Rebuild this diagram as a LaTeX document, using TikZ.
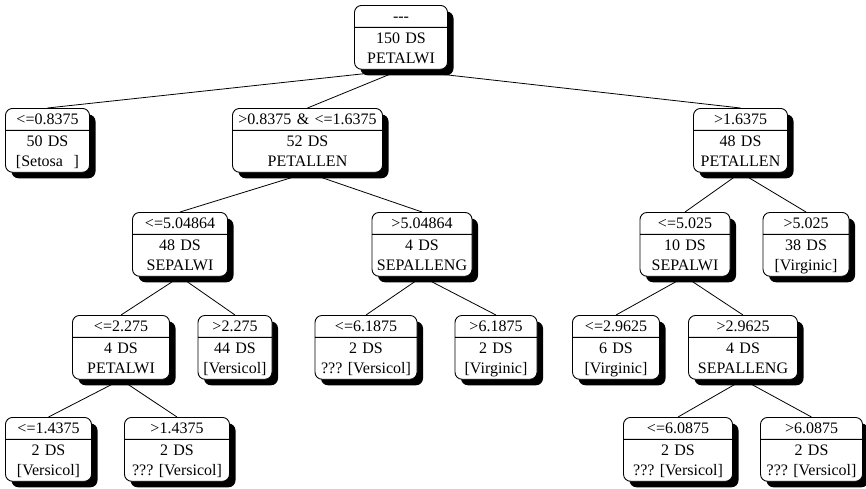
\documentclass[tikz,border=0pt]{standalone}
\usepackage{fontspec}
\setmainfont{Liberation Serif}
\usetikzlibrary{shapes.multipart,shadows}
\pgfdeclarelayer{edges}
\pgfsetlayers{edges,main}
% line strut for the box rows
\newcommand\rowstrut{\rule[-5pt]{0pt}{20pt}}
\begin{document}
\frenchspacing
\begin{tikzpicture}[x=1pt,y=-1pt,
  tnode/.style={rectangle split, rectangle split parts=2, draw, line width=0.9pt,
    rounded corners=7pt, fill=white, anchor=north, align=center,
    inner xsep=0pt, inner ysep=0.5pt,
    font=\fontsize{16}{20}\selectfont,
    drop shadow={shadow xshift=6pt, shadow yshift=-6pt, fill=black, opacity=1}},
  link/.style={line width=0.8pt}]
\useasboundingbox (0,0) rectangle (866,488);

% root
\node[tnode, text width=93pt] (r) at (401,5)
  {\rowstrut-{}-{}-\nodepart{two}\rowstrut150 DS\\\rowstrut PETALWI};

% level 1
\node[tnode, text width=84pt] (a) at (47.5,108)
  {\rowstrut<=0.8375\nodepart{two}\rowstrut50 DS\\\rowstrut[Setosa\ \ ]};
\node[tnode, text width=150pt] (b) at (307.5,108)
  {\rowstrut>0.8375 \& <=1.6375\nodepart{two}\rowstrut52 DS\\\rowstrut PETALLEN};
\node[tnode, text width=94pt] (c) at (740.5,108)
  {\rowstrut>1.6375\nodepart{two}\rowstrut48 DS\\\rowstrut PETALLEN};

% level 2
\node[tnode, text width=95pt] (b1) at (180,212)
  {\rowstrut<=5.04864\nodepart{two}\rowstrut48 DS\\\rowstrut SEPALWI};
\node[tnode, text width=100pt] (b2) at (422,212)
  {\rowstrut>5.04864\nodepart{two}\rowstrut4 DS\\\rowstrut SEPALLENG};
\node[tnode, text width=90pt] (c1) at (685,212)
  {\rowstrut<=5.025\nodepart{two}\rowstrut10 DS\\\rowstrut SEPALWI};
\node[tnode, text width=86pt] (c2) at (806,212)
  {\rowstrut>5.025\nodepart{two}\rowstrut38 DS\\\rowstrut[Virginic]};

% level 3
\node[tnode, text width=97pt] (b11) at (121,315)
  {\rowstrut<=2.275\nodepart{two}\rowstrut4 DS\\\rowstrut PETALWI};
\node[tnode, text width=74pt] (b12) at (235,315)
  {\rowstrut>2.275\nodepart{two}\rowstrut44 DS\\\rowstrut[Versicol]};
\node[tnode, text width=102pt] (b21) at (366,315)
  {\rowstrut<=6.1875\nodepart{two}\rowstrut2 DS\\\rowstrut??? [Versicol]};
\node[tnode, text width=82pt] (b22) at (496,315)
  {\rowstrut>6.1875\nodepart{two}\rowstrut2 DS\\\rowstrut[Virginic]};
\node[tnode, text width=87pt] (c11) at (616,315)
  {\rowstrut<=2.9625\nodepart{two}\rowstrut6 DS\\\rowstrut[Virginic]};
\node[tnode, text width=109pt] (c12) at (743,315)
  {\rowstrut>2.9625\nodepart{two}\rowstrut4 DS\\\rowstrut SEPALLENG};

% level 4
\node[tnode, text width=86pt] (b111) at (48.5,417)
  {\rowstrut<=1.4375\nodepart{two}\rowstrut2 DS\\\rowstrut[Versicol]};
\node[tnode, text width=105pt] (b112) at (177,417)
  {\rowstrut>1.4375\nodepart{two}\rowstrut2 DS\\\rowstrut??? [Versicol]};
\node[tnode, text width=109pt] (c121) at (678,417)
  {\rowstrut<=6.0875\nodepart{two}\rowstrut2 DS\\\rowstrut??? [Versicol]};
\node[tnode, text width=102pt] (c122) at (811.5,417)
  {\rowstrut>6.0875\nodepart{two}\rowstrut2 DS\\\rowstrut??? [Versicol]};

% branches
\begin{pgfonlayer}{edges}
\foreach \p/\q in {r/a, r/b, r/c, b/b1, b/b2, c/c1, c/c2,
                   b1/b11, b1/b12, b2/b21, b2/b22, c1/c11, c1/c12,
                   b11/b111, b11/b112, c12/c121, c12/c122}
  \draw[link] (\p.south) -- (\q.north);
\end{pgfonlayer}
\end{tikzpicture}
\end{document}
